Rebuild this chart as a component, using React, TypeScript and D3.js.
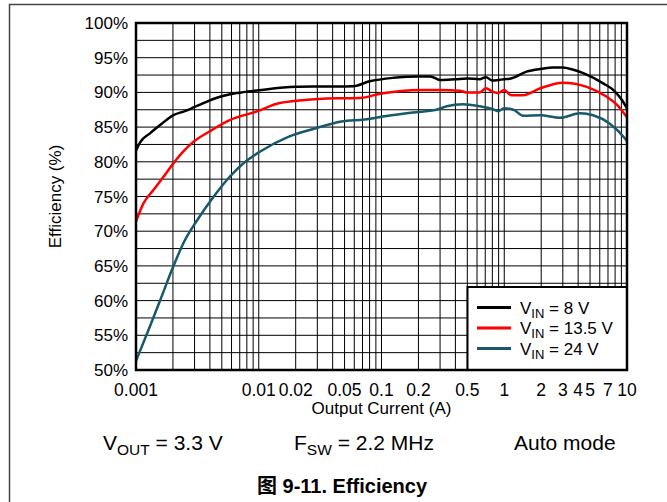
import React from "react";
import * as d3 from "d3";

const yTicks = [50, 55, 60, 65, 70, 75, 80, 85, 90, 95, 100];
const xTickValues = [0.001, 0.01, 0.02, 0.05, 0.1, 0.2, 0.5, 1, 2, 3, 4, 5, 7, 10];
const xTickLabels = ["0.001", "0.01", "0.02", "0.05", "0.1", "0.2", "0.5", "1", "2", "3", "4", "5", "7", "10"];

const current8 = [0.001, 0.00108, 0.0013, 0.0016, 0.002, 0.0025, 0.003, 0.0037, 0.0045, 0.0066, 0.01, 0.02, 0.0316, 0.059, 0.08, 0.125, 0.2, 0.25, 0.3, 0.4, 0.5, 0.63, 0.71, 0.8, 0.9, 1.0, 1.13, 1.52, 2.0, 2.5, 3.0, 3.6, 4.5, 6.4, 7.8, 9.0, 10];
const eff8 = [81.6, 82.8, 84.1, 85.4, 86.7, 87.3, 87.9, 88.6, 89.2, 89.9, 90.3, 90.8, 90.85, 90.9, 91.6, 92.1, 92.3, 92.3, 91.8, 91.9, 92.0, 91.9, 92.2, 91.7, 91.8, 91.9, 92.0, 93.0, 93.4, 93.6, 93.6, 93.3, 92.7, 91.3, 90.3, 89.0, 87.7];

const current13 = [0.001, 0.00115, 0.00138, 0.00167, 0.002, 0.0024, 0.0029, 0.004, 0.0058, 0.0102, 0.0136, 0.0238, 0.0444, 0.067, 0.097, 0.21, 0.3, 0.435, 0.49, 0.63, 0.71, 0.8, 0.89, 1.0, 1.14, 1.42, 1.97, 3.0, 4.7, 6.8, 8.3, 10];
const eff13 = [71.4, 74.0, 75.9, 77.8, 79.7, 81.4, 82.8, 84.4, 86.0, 87.4, 88.3, 88.9, 89.15, 89.2, 89.8, 90.35, 90.35, 90.25, 90.0, 90.0, 90.6, 90.1, 89.9, 90.35, 89.6, 89.6, 90.6, 91.4, 90.8, 89.4, 88.2, 86.4];

const current24 = [0.001, 0.0013, 0.00157, 0.002, 0.0025, 0.0031, 0.0043, 0.0058, 0.0075, 0.0102, 0.0174, 0.0287, 0.047, 0.073, 0.11, 0.18, 0.28, 0.34, 0.46, 0.63, 0.8, 0.89, 1.0, 1.19, 1.42, 1.97, 2.85, 4.16, 5.3, 7.25, 9.6, 10];
const eff24 = [51.3, 56.3, 60.0, 64.8, 68.7, 71.4, 75.0, 77.85, 79.8, 81.45, 83.6, 84.8, 85.8, 86.1, 86.6, 87.1, 87.5, 88.0, 88.3, 88.0, 87.6, 87.3, 87.7, 87.5, 86.65, 86.7, 86.35, 87.0, 86.7, 85.5, 83.4, 83.0];

const seriesNames = ["8", "13.5", "24"];
const seriesColors = ["#000000", "#ff0000", "#17596b"];

const W = 667, H = 502;
const L = 136, R = 627, T = 23, B = 370;
const FONT = "'Liberation Sans', Arial, sans-serif";

export default function App() {
  const x = d3.scaleLog().domain([0.001, 10]).range([L, R]);
  const y = d3.scaleLinear().domain([50, 100]).range([B, T]);

  const series = [
    { c: current8, e: eff8 },
    { c: current13, e: eff13 },
    { c: current24, e: eff24 },
  ];

  const line = d3
    .line<[number, number]>()
    .x((d) => x(d[0]))
    .y((d) => y(d[1]))
    .curve(d3.curveMonotoneX);

  const minorX: number[] = [];
  for (let dec = -3; dec < 1; dec++) {
    for (let k = 1; k < 10; k++) minorX.push(k * Math.pow(10, dec));
  }
  minorX.push(10);
  const gridY = d3.range(50, 100.01, 2.5);

  const legX = 467.5, legY = 287, legW = R - 467.5, legH = B - 287;

  return (
    <svg width={W} height={H} style={{ position: "absolute", left: 0, top: 0, background: "#fff" }} fontFamily={FONT}>
      <rect x={0} y={0} width={W} height={H} fill="#fff" />
      <rect x={9.5} y={4.5} width={700} height={600} fill="none" stroke="#444" strokeWidth={1.5} />
      {minorX.map((v, i) => (
        <line key={"gx" + i} x1={x(v)} x2={x(v)} y1={T} y2={B} stroke="#000" strokeWidth={1} />
      ))}
      {gridY.map((v, i) => (
        <line key={"gy" + i} x1={L} x2={R} y1={y(v)} y2={y(v)} stroke="#000" strokeWidth={1} />
      ))}
      {series.map((s, i) => (
        <path
          key={"s" + i}
          d={line(s.c.map((c, j) => [c, s.e[j]] as [number, number])) || ""}
          fill="none"
          stroke={seriesColors[i]}
          strokeWidth={2.5}
          strokeLinejoin="round"
        />
      ))}
      <rect x={legX} y={legY} width={legW} height={legH} fill="#fff" stroke="#000" strokeWidth={2} />
      {seriesNames.map((n, i) => {
        const ly = 307.5 + i * 20.5;
        return (
          <g key={"lg" + i}>
            <line x1={477} x2={511} y1={ly} y2={ly} stroke={seriesColors[i]} strokeWidth={3} />
            <text x={520} y={ly + 6} fontSize={17} fill="#000">
              V<tspan fontSize={13} dy={4}>IN</tspan>
              <tspan dy={-4}>{" = " + n + " V"}</tspan>
            </text>
          </g>
        );
      })}
      <rect x={L} y={T} width={R - L} height={B - T} fill="none" stroke="#000" strokeWidth={2.5} />
      {yTicks.map((v) => (
        <text key={"yt" + v} x={128} y={y(v) + 6} fontSize={17} textAnchor="end" fill="#000">
          {v + "%"}
        </text>
      ))}
      {xTickValues.map((v, i) => (
        <text key={"xt" + i} x={x(v)} y={396} fontSize={17.5} textAnchor="middle" fill="#000">
          {xTickLabels[i]}
        </text>
      ))}
      <text x={(L + R) / 2} y={414} fontSize={17} textAnchor="middle" fill="#000">
        Output Current (A)
      </text>
      <text transform={`translate(61,${(T + B) / 2}) rotate(-90)`} fontSize={17} textAnchor="middle" fill="#000">
        Efficiency (%)
      </text>
      <text x={103} y={450} fontSize={21} fill="#000">
        V<tspan fontSize={15.5} dy={5}>OUT</tspan>
        <tspan dy={-5}> = 3.3 V</tspan>
      </text>
      <text x={294} y={450} fontSize={21} fill="#000">
        F<tspan fontSize={15.5} dy={5}>SW</tspan>
        <tspan dy={-5}> = 2.2 MHz</tspan>
      </text>
      <text x={514} y={450} fontSize={21} fill="#000">
        Auto mode
      </text>
      <text x={342} y={493} fontSize={20} fontWeight="bold" textAnchor="middle" fill="#000" fontFamily={"'Liberation Sans', 'Noto Sans CJK SC', sans-serif"}>
        图 9-11. Efficiency
      </text>
    </svg>
  );
}
